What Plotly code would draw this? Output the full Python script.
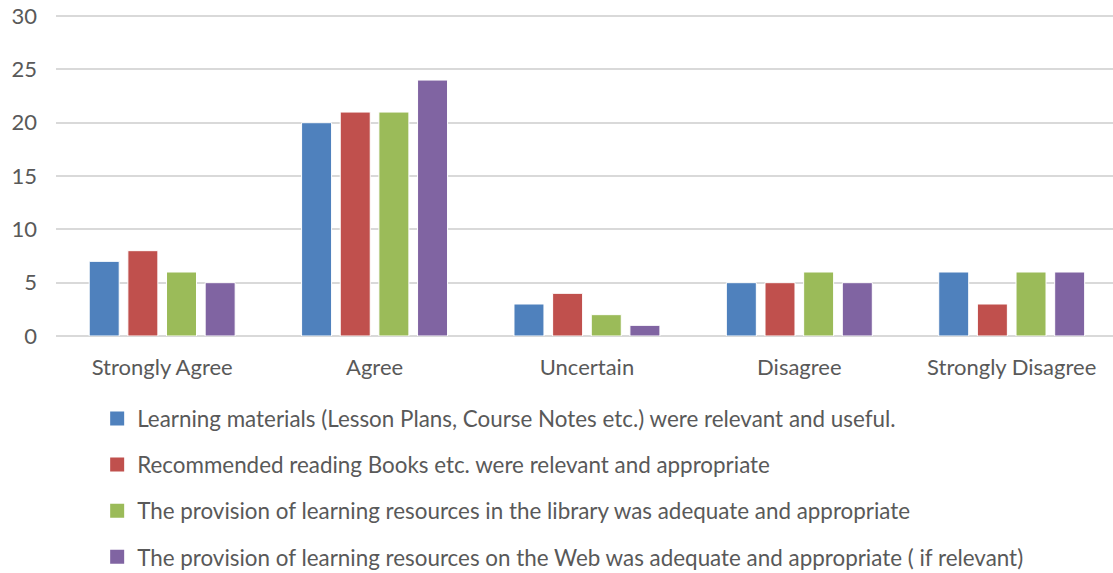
import plotly.graph_objects as go

categories = ["Strongly Agree", "Agree", "Uncertain", "Disagree", "Strongly Disagree"]
series_names = [
    "Learning materials (Lesson Plans, Course Notes etc.) were relevant and useful.",
    "Recommended reading Books etc. were relevant and appropriate",
    "The provision of learning resources in the library was adequate and appropriate",
    "The provision of learning resources on the Web was adequate and appropriate ( if relevant)",
]
learning_materials = [7, 20, 3, 5, 6]
recommended_reading = [8, 21, 4, 5, 3]
library_resources = [6, 21, 2, 6, 6]
web_resources = [5, 24, 1, 5, 6]
colors = ["#4F81BD", "#C0504D", "#9BBB59", "#8064A2"]

FONT = "Lato, Calibri, 'Open Sans', sans-serif"

fig = go.Figure()
all_series = [learning_materials, recommended_reading, library_resources, web_resources]
for i, (name, vals) in enumerate(zip(series_names, all_series)):
    fig.add_trace(go.Bar(
        x=categories, y=vals, name=name,
        marker=dict(color=colors[i], line=dict(color="white", width=1)),
        legendgroup=f"g{i}", showlegend=False,
    ))
    # legend proxy with a larger square swatch
    fig.add_trace(go.Scatter(
        x=[None], y=[None], mode="markers", name=name,
        marker=dict(symbol="square", size=14, color=colors[i]),
        legendgroup=f"g{i}", showlegend=True, hoverinfo="skip",
    ))

fig.update_layout(
    width=1113, height=573,
    paper_bgcolor="white", plot_bgcolor="white",
    margin=dict(l=56, r=0, t=15, b=237, autoexpand=False),
    barmode="group", bargap=0.272, bargroupgap=0.224,
    font=dict(family=FONT, size=22, color="#595959"),
    showlegend=True,
    legend=dict(
        orientation="v", xref="container", yref="container",
        x=0.0873, xanchor="left", y=0.3065, yanchor="top",
        traceorder="grouped", tracegroupgap=14,
        font=dict(family=FONT, size=22.4, color="#595959"),
        itemwidth=30,
    ),
    xaxis=dict(showgrid=False, showline=False, ticks="", ticklabelstandoff=16,
               range=[-0.5, 4.477],
               tickangle=0, tickfont=dict(size=22, color="#595959")),
    yaxis=dict(range=[0, 30.1], tickvals=[0, 5, 10, 15, 20, 25, 30],
               showgrid=True, gridcolor="#D9D9D9", gridwidth=1.5,
               zeroline=True, zerolinecolor="#D9D9D9", zerolinewidth=1.5,
               showline=False, ticks="", ticklabelstandoff=18,
               tickfont=dict(size=22, color="#595959")),
)

fig.write_html("out.html", config={"displayModeBar": False},
               post_script="document.body.style.margin='0';")
